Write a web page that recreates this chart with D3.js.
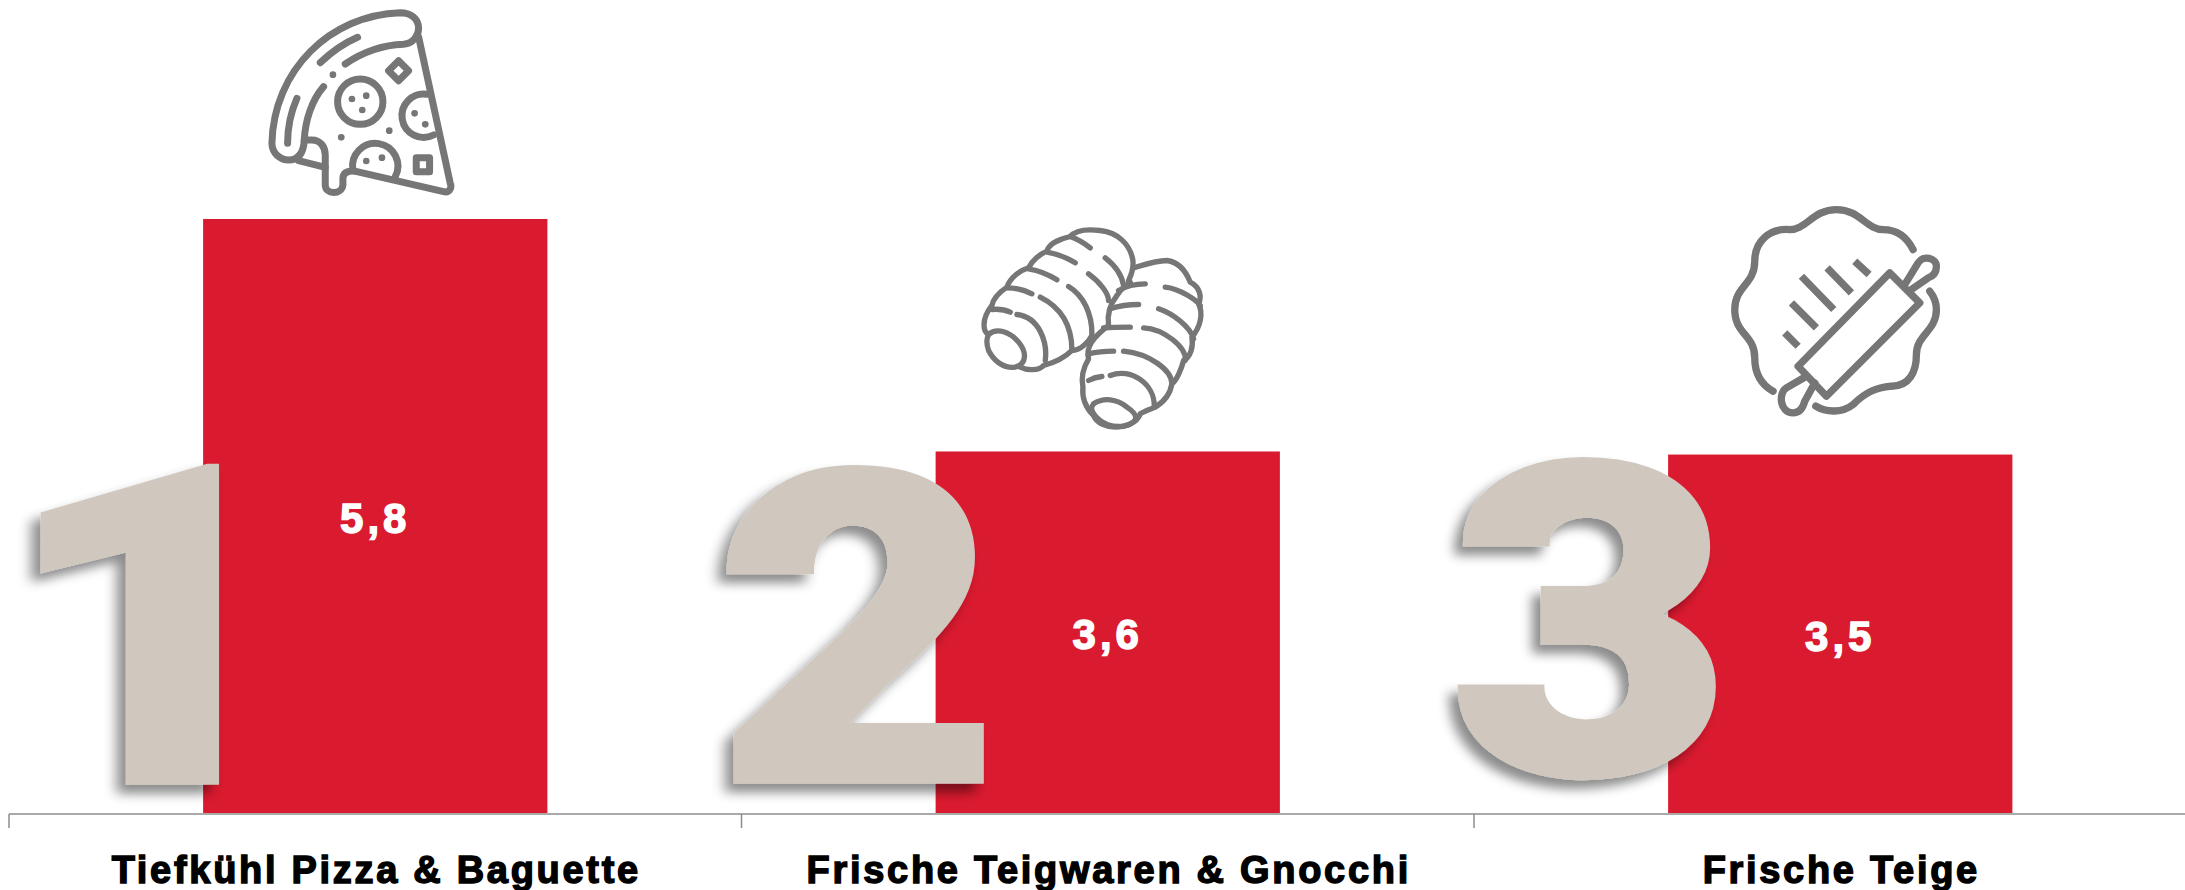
<!DOCTYPE html>
<html>
<head>
<meta charset="utf-8">
<script src="https://cdn.jsdelivr.net/npm/d3@7"></script>
<style>
  html, body { margin: 0; padding: 0; background: #fff; overflow: hidden; }
  svg { display: block; }
</style>
</head>
<body>
<div id="chart"></div>
<script>
// Data
const categories = ["Tiefkühl Pizza & Baguette", "Frische Teigwaren & Gnocchi", "Frische Teige"];
const values = [5.8, 3.53, 3.5];
const valueLabels = ["5,8", "3,6", "3,5"];
const ranks = ["1", "2", "3"];

const width = 2185, height = 890;
const baseline = 813;
const red = "#da1a2f", sand = "#d0c8bf", iconGrey = "#767676";

const svg = d3.select("#chart").append("svg")
    .attr("width", width)
    .attr("height", height);

// the third band runs past the right edge of the window, as in the original
const x = d3.scaleBand()
    .domain(categories)
    .range([9, 9 + 732.5 * 3])
    .paddingInner(0.53)
    .paddingOuter(0.265);

const y = d3.scaleLinear()
    .domain([0, 5.8])
    .range([baseline, 219]);

// Shadow under the big rank numbers
const defs = svg.append("defs");
const shadow = defs.append("filter")
    .attr("id", "rankShadow")
    .attr("x", "-20%").attr("y", "-20%")
    .attr("width", "140%").attr("height", "140%");
shadow.append("feDropShadow")
    .attr("dx", -7).attr("dy", 8)
    .attr("stdDeviation", 5)
    .attr("flood-color", "#000")
    .attr("flood-opacity", 0.45);

// Bars
svg.append("g").selectAll("rect")
    .data(categories)
    .join("rect")
    .attr("x", d => x(d))
    .attr("y", (d, i) => y(values[i]))
    .attr("width", x.bandwidth())
    .attr("height", (d, i) => baseline - y(values[i]))
    .attr("fill", red);

// Axis: labels through d3.axisBottom, ticks sit on the band edges
const axis = svg.append("g")
    .attr("transform", `translate(0,${baseline})`)
    .call(d3.axisBottom(x).tickSize(0).tickPadding(42));
axis.select(".domain").remove();
axis.selectAll("text")
    .attr("fill", "#000")
    .attr("stroke", "#000")
    .attr("stroke-width", 1.4)
    .attr("dy", 0)
    .attr("dx", 1)
    .style("font-family", "'Liberation Sans', Arial, sans-serif")
    .style("font-weight", "bold")
    .style("font-size", "38px")
    .style("letter-spacing", "2.7px")
    .attr("y", 70);

axis.append("line")
    .attr("x1", 9).attr("x2", width)
    .attr("y1", 1).attr("y2", 1)
    .attr("stroke", "#8c8c8c").attr("stroke-width", 1.5);
axis.selectAll(".edge")
    .data(d3.range(categories.length))
    .join("line")
    .attr("class", "edge")
    .attr("x1", i => 9 + i * x.step()).attr("x2", i => 9 + i * x.step())
    .attr("y1", 1).attr("y2", 15)
    .attr("stroke", "#8c8c8c").attr("stroke-width", 1.5);

// Value labels, centred in each bar
svg.append("g").selectAll("text")
    .data(categories)
    .join("text")
    .attr("x", d => x(d) + x.bandwidth() / 2)
    .attr("y", (d, i) => (y(values[i]) + baseline) / 2 + 17)
    .attr("text-anchor", "middle")
    .attr("fill", "#fff")
    .attr("stroke", "#fff")
    .attr("stroke-width", 1.4)
    .style("font-family", "'Liberation Sans', Arial, sans-serif")
    .style("font-weight", "bold")
    .style("font-size", "42px")
    .style("letter-spacing", "4px")
    .text((d, i) => valueLabels[i]);

// Big rank numbers: real text, stretched so the ink fills the box seen in the original
const rankBoxes = [
    { x0: 39, x1: 226, y0: 460, y1: 785, stroke: 6 },
    { x0: 720, x1: 987, y0: 459, y1: 784, stroke: 6 },
    { x0: 1454, x1: 1719, y0: 451, y1: 783, stroke: 6 }
];
const rankFont = 400;
const measure = document.createElement("canvas").getContext("2d");
measure.font = `900 ${rankFont}px Roboto`;

svg.append("g").selectAll("text")
    .data(ranks)
    .join("text")
    .attr("transform", (d, i) => {
        const b = rankBoxes[i];
        const m = measure.measureText(d);
        const inkW = m.actualBoundingBoxRight + m.actualBoundingBoxLeft;
        const inkH = m.actualBoundingBoxAscent + m.actualBoundingBoxDescent;
        const sx = (b.x1 - b.x0 - b.stroke) / inkW;
        const sy = (b.y1 - b.y0 - b.stroke) / inkH;
        const tx = b.x0 + b.stroke / 2 + m.actualBoundingBoxLeft * sx;
        const ty = b.y1 - b.stroke / 2 - m.actualBoundingBoxDescent * sy;
        return `translate(${tx},${ty}) scale(${sx},${sy})`;
    })
    .attr("fill", sand)
    .attr("stroke", sand)
    .attr("stroke-width", (d, i) => rankBoxes[i].stroke)
    .attr("stroke-linejoin", "miter")
    .attr("vector-effect", "non-scaling-stroke")
    .attr("filter", "url(#rankShadow)")
    .style("font-family", "Roboto, 'Liberation Sans', sans-serif")
    .style("font-weight", 900)
    .style("font-size", rankFont + "px")
    .text(d => d);

// Icons. Paths are traced in 3x pixels, placed relative to the top centre of their bar
const pizzaPaths = [
    "M345,192 C400,155 460,135 520,133 C550,130 565,105 565,85 C565,55 540,38 510,38 C300,45 130,210 125,430 C125,460 150,480 175,480 C205,480 220,460 222,420",
    "M280,260 C245,300 225,360 222,420 L245,420 C270,420 285,440 285,465 L285,555 C285,585 335,585 338,555 L338,535 C338,515 360,510 380,515 L640,575 C660,580 665,560 660,550 L565,110",
    "M205,482 L285,502",
    "M270,188 C305,155 340,130 382,112",
    "M172,430 C172,380 180,340 200,295",
    "M590,283 A65,65 0 1 0 610,405",
    "M368,510 A68,68 0 1 1 495,530",
    "M505,182 L535,212 L505,242 L475,212 Z",
    "M558,473 L598,473 L598,515 L558,515 Z"
];
const pizzaRings = [[390, 305, 68]];
const pizzaDots = [[365, 297], [408, 287], [396, 330], [553, 340], [585, 373], [408, 483], [455, 473], [308, 224], [333, 412], [477, 392]];

const gnocchiPaths = [
    "M85,372 C110,350 150,365 175,395 C200,425 200,460 165,470 C130,475 100,450 85,420 C78,400 78,385 85,372",
    "M180,470 C200,480 235,482 250,465 C290,455 320,435 335,420 C360,420 385,395 395,375",
    "M85,372 C70,365 60,330 95,285 C100,260 125,240 140,230 C150,200 180,180 205,172 C215,150 240,130 260,122 C265,100 300,85 330,78 C345,60 380,55 420,60 C470,65 510,100 518,150 C520,170 515,190 505,210",
    "M95,297 C115,295 135,298 150,305",
    "M170,312 C240,320 262,400 255,450",
    "M140,232 C165,232 195,240 215,250",
    "M240,260 C300,290 335,340 335,420",
    "M205,175 C235,180 265,192 290,208",
    "M325,228 C370,255 395,310 395,370",
    "M260,125 C290,130 320,142 345,157",
    "M385,190 C420,215 445,250 445,270",
    "M330,78 C350,85 372,98 390,112",
    "M435,142 C465,165 485,195 490,225",
    "M400,580 C430,560 470,565 500,590 C530,610 540,630 500,645 C460,655 420,640 400,610 C392,595 392,590 400,580",
    "M400,615 C375,590 365,560 368,530 C362,500 370,470 385,445 C375,410 400,380 445,345 C440,310 450,280 470,255 C480,240 495,225 510,215",
    "M520,172 C560,160 590,150 620,150 C660,155 680,190 690,215 C720,230 725,260 715,280 C730,310 720,350 695,380 C700,410 690,440 670,450 C665,470 650,510 635,520 C630,550 610,575 585,590 C575,595 555,600 540,610 C530,640 490,650 465,650 C440,650 410,640 400,615",
    "M385,510 C398,503 412,499 425,498",
    "M450,495 C510,470 585,520 582,590",
    "M385,430 C410,424 435,422 460,422",
    "M490,422 C570,430 635,480 635,520",
    "M430,352 C455,350 485,350 510,350",
    "M550,352 C610,355 680,410 675,450",
    "M450,295 C480,285 510,282 535,282",
    "M595,295 C640,310 690,350 700,385",
    "M475,240 C500,225 530,220 555,220",
    "M615,230 C660,235 710,270 720,285"
];

const rollingPaths = [
    "M610,165 C590,125 560,105 520,105 C470,105 450,45 380,45 C310,45 290,105 240,105 C180,100 135,140 135,200 C135,270 75,275 75,345 C75,420 135,420 135,490 C135,540 155,570 190,590",
    "M318,635 C350,655 400,655 430,630 C470,590 500,580 545,575 C600,575 620,530 620,480 C620,420 680,410 680,345 C680,325 672,305 660,290",
    "M540,235 L630,325 L350,605 L265,515 Z",
    "M585,270 L625,205 C640,180 680,190 680,215 C680,235 670,245 655,250 L605,285",
    "M285,548 L230,580 C205,595 210,655 250,655 C270,655 280,640 285,620 L315,565"
];
const rollingHatches = [
    "M225,415 L265,455", "M245,325 L320,400", "M275,245 L372,345", "M352,220 L425,295", "M435,200 L478,240"
];

const icons = [
    { paths: pizzaPaths, rings: pizzaRings, dots: pizzaDots, hatches: [], dx: -145, dy: -219, sw: 21 },
    { paths: gnocchiPaths, rings: [], dots: [], hatches: [], dx: -147.5, dy: -241, sw: 16 },
    { paths: rollingPaths, rings: [], dots: [], hatches: rollingHatches, dx: -130.5, dy: -260, sw: 22 }
];

const icon = svg.append("g").selectAll("g")
    .data(icons)
    .join("g")
    .attr("transform", (d, i) => {
        const c = categories[i];
        return `translate(${x(c) + x.bandwidth() / 2 + d.dx},${y(values[i]) + d.dy}) scale(${1 / 3})`;
    })
    .attr("fill", "none")
    .attr("stroke", iconGrey)
    .attr("stroke-width", d => d.sw)
    .attr("stroke-linecap", "round")
    .attr("stroke-linejoin", "round");

icon.selectAll(".outline").data(d => d.paths).join("path").attr("class", "outline").attr("d", d => d);
icon.selectAll(".hatch").data(d => d.hatches).join("path").attr("class", "hatch").attr("stroke-linecap", "butt").attr("d", d => d);
icon.selectAll(".ring").data(d => d.rings).join("circle").attr("class", "ring")
    .attr("cx", d => d[0]).attr("cy", d => d[1]).attr("r", d => d[2]);
icon.selectAll(".dot").data(d => d.dots).join("circle").attr("class", "dot")
    .attr("cx", d => d[0]).attr("cy", d => d[1]).attr("r", 10)
    .attr("fill", iconGrey).attr("stroke", "none");
</script>
</body>
</html>
